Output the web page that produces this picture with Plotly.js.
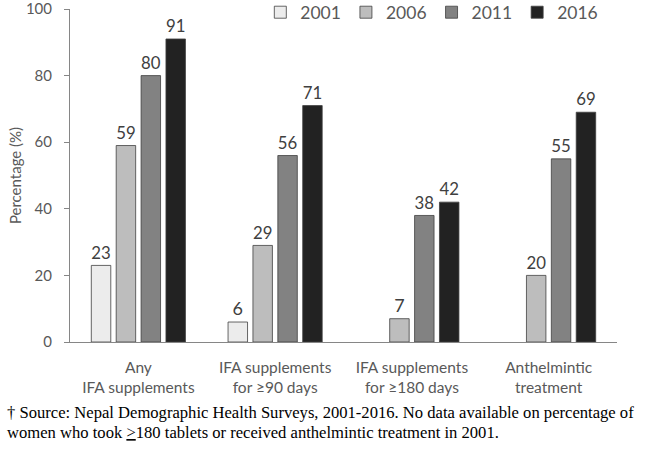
<!DOCTYPE html>
<html>
<head>
<meta charset="utf-8">
<script src="https://cdn.plot.ly/plotly-3.0.1.min.js"></script>
<style>html,body{margin:0;padding:0;background:#fff;}#chart{width:669px;height:466px;}</style>
</head>
<body>
<div id="chart"></div>
<script>
var categories = ["Any<br>IFA supplements", "IFA supplements<br>for ≥90 days", "IFA supplements<br>for ≥180 days", "Anthelmintic<br>treatment"];
var years = ["2001", "2006", "2011", "2016"];
var v2001 = [23, 6, null, null];
var v2006 = [59, 29, 7, 20];
var v2011 = [80, 56, 38, 55];
var v2016 = [91, 71, 42, 69];
var yTicks = [0, 20, 40, 60, 80, 100];
var footLine1 = "† Source: Nepal Demographic Health Surveys, 2001-2016. No data available on percentage of";
var footLine2 = "women who took <u>></u>180 tablets or received anthelmintic treatment in 2001.";

var series = [v2001, v2006, v2011, v2016];
var colors = ["#ececec", "#bdbdbd", "#828282", "#222222"];
var font = "Lato, 'Open Sans', sans-serif";

var traces = series.map(function(vals, i) {
  return {
    type: "bar",
    name: years[i],
    x: categories,
    y: vals,
    marker: {color: colors[i], line: {color: "#404040", width: 0.8}},
    text: vals.map(function(v){ return v === null ? "" : String(v); }),
    textposition: "outside",
    cliponaxis: false,
    textfont: {family: font, size: 18, color: "#404040"},
    hoverinfo: "skip"
  };
});

var layout = {
  width: 669, height: 466,
  margin: {l: 70, r: 52, t: 9, b: 124, autoexpand: false},
  paper_bgcolor: "#ffffff",
  plot_bgcolor: "#ffffff",
  barmode: "group",
  bargap: 0.272,
  bargroupgap: 0.217,
  font: {family: font, color: "#595959"},
  showlegend: true,
  legend: {
    orientation: "h",
    x: 0.975, xanchor: "right",
    y: 0.99, yanchor: "middle",
    font: {family: font, size: 17.5, color: "#595959"},
    bgcolor: "rgba(0,0,0,0)",
    traceorder: "normal",
    itemwidth: 30
  },
  xaxis: {
    showline: true, linecolor: "#868686", linewidth: 1,
    ticks: "", showgrid: false, zeroline: false,
    tickfont: {family: font, size: 15.5, color: "#595959"},
    ticklabelstandoff: 11,
    fixedrange: true
  },
  yaxis: {
    range: [0, 100],
    tickvals: yTicks,
    ticktext: yTicks.map(String),
    showline: true, linecolor: "#868686", linewidth: 1,
    ticks: "outside", ticklen: 5, tickcolor: "#868686",
    showgrid: false, zeroline: false,
    tickfont: {family: font, size: 15, color: "#595959"},
    ticklabelstandoff: 9,
    ticklabeloverflow: "allow",
    title: {text: "Percentage (%)", font: {family: font, size: 15, color: "#595959"}, standoff: 0},
    fixedrange: true
  },
  annotations: [
    {xref: "paper", yref: "paper", x: -0.119, y: -0.2126, xanchor: "left", yanchor: "middle",
     text: footLine1, showarrow: false, align: "left",
     font: {family: "'Liberation Serif', 'Times New Roman', serif", size: 16.6, color: "#000000"}},
    {xref: "paper", yref: "paper", x: -0.119, y: -0.272, xanchor: "left", yanchor: "middle",
     text: footLine2, showarrow: false, align: "left",
     font: {family: "'Liberation Serif', 'Times New Roman', serif", size: 16.6, color: "#000000"}}
  ]
};

Plotly.newPlot("chart", traces, layout, {displayModeBar: false, staticPlot: true});
</script>
</body>
</html>
